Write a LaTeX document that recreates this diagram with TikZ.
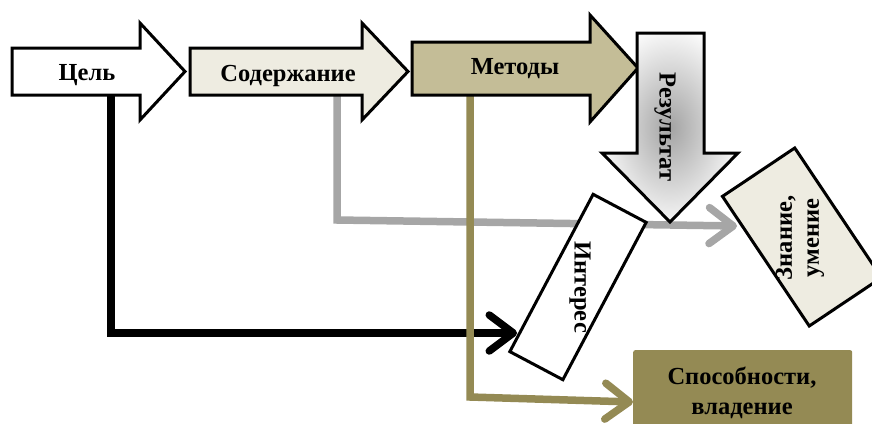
\documentclass[tikz,border=0pt]{standalone}
\usepackage{fontspec}
\setmainfont{Liberation Serif}
\usetikzlibrary{arrows.meta}
\definecolor{khaki}{HTML}{948A54}
\definecolor{tanfill}{HTML}{C4BD97}
\definecolor{creamfill}{HTML}{EEECE1}
\definecolor{greyln}{HTML}{A6A6A6}
\pgfdeclareradialshading{resgrad}{\pgfpoint{0bp}{0bp}}{color(0bp)=(black!36); color(28bp)=(white); color(50bp)=(white)}
\begin{document}
\begin{tikzpicture}[x=1pt,y=-1pt,
  blockarrow/.style={draw=black, line width=3pt, line join=miter},
  lbl/.style={font=\fontsize{24.5}{27}\selectfont\bfseries, inner sep=0pt, align=center},
  conn/.style={line width=7.5pt, line join=miter},
  barb/.style={-{Straight Barb[length=24pt,width=36pt,line cap=round,line join=round]}},
  tiltbox/.style={draw=black, line width=3pt, inner sep=0pt, outer sep=0pt}
]
\useasboundingbox (0,0) rectangle (872,423);
% connector points
\coordinate (cel-b) at (111,95);
\coordinate (sod-b) at (337,95);
\coordinate (met-b) at (470,95);
\coordinate (g-turn) at (337,220);
\coordinate (b-turn) at (111,333);
\coordinate (k-turn) at (470,397);
\coordinate (zn-in) at (737,226);
\coordinate (in-in) at (517,333);
\coordinate (sp-in) at (633,402);
% connectors
\draw[conn, greyln, barb] (sod-b) -- (g-turn) -- (zn-in);
\draw[conn, black, barb] (cel-b) -- (b-turn) -- (in-in);
\draw[conn, khaki, barb] (met-b) -- (k-turn) -- (sp-in);
% block arrows
\draw[blockarrow, fill=white] (12,48) -- (140,48) -- (140,23) -- (185,71.5) -- (140,120) -- (140,95) -- (12,95) -- cycle;
\node[lbl, anchor=base] (cel) at (87,80) {Цель};
\draw[blockarrow, fill=creamfill] (190,48) -- (362,48) -- (362,23) -- (408,71.5) -- (362,120) -- (362,95) -- (190,95) -- cycle;
\node[lbl, anchor=base] (sod) at (288,81) {Содержание};
\draw[blockarrow, fill=tanfill] (412,42) -- (590,42) -- (590,15) -- (638,68) -- (590,122) -- (590,95) -- (412,95) -- cycle;
\node[lbl, anchor=base] (met) at (515,74) {Методы};
\draw[blockarrow, shading=resgrad] (637,33) -- (704,33) -- (704,153) -- (738,153) -- (670,222) -- (602,153) -- (637,153) -- cycle;
\node[lbl, rotate=-90] (res) at (665,127) {Результат};
% boxes
\node[tiltbox, fill=white, rotate=62.1, minimum width=178pt, minimum height=60pt] (interes) at (578,287) {};
\node[lbl, rotate=-90] (interes-t) at (580,287) {Интерес};
\node[tiltbox, fill=creamfill, rotate=-56.2, minimum width=156pt, minimum height=87pt] (znanie) at (802,237) {};
\node[lbl, rotate=90] (znanie-t) at (800,238) {Знание,\\умение};
\node[fill=khaki, rounded corners=2pt, minimum width=219pt, minimum height=80pt, anchor=north west, inner sep=0pt] (spos) at (633,350) {};
\node[lbl, font=\fontsize{24.5}{30}\selectfont\bfseries] (spos-t) at (742,393) {Способности,\\владение};
\end{tikzpicture}
\end{document}
